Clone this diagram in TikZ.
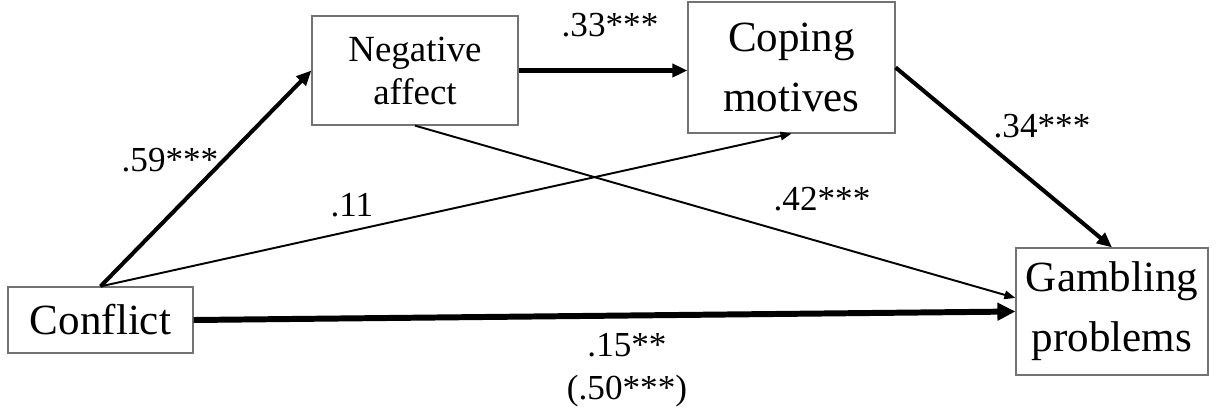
\documentclass[tikz,border=0pt]{standalone}
\usepackage{fontspec}
\setmainfont{Liberation Serif}
\usetikzlibrary{arrows.meta}

\begin{document}
\begin{tikzpicture}[x=0.02cm, y=-0.02cm,
        construct/.style={rectangle, draw=black!55, line width=0.7pt, inner sep=0pt, align=center,
            font=\fontsize{24.5}{34}\selectfont},
        coef/.style={inner sep=0pt, align=center, font=\fontsize{20}{24.4}\selectfont},
        thinpath/.style={line width=1.1pt, -{Triangle[length=0.22cm, width=0.17cm]}},
        paths/.style={line width=2.3pt, -{Triangle[length=0.3cm, width=0.26cm]}},
        heavypath/.style={line width=3.4pt, -{Triangle[length=0.36cm, width=0.34cm]}}
    ]
    \useasboundingbox (0,0) rectangle (1220,413);

        % Nodes
        \node[construct, minimum width=3.7cm, minimum height=1.32cm] (conflict) at (100.5,320) {Conflict};
        \node[construct, minimum width=4.12cm, minimum height=2.18cm,
              font=\fontsize{21}{24.5}\selectfont] (negaff) at (415,70.5) {Negative\\affect};
        \node[construct, minimum width=4.14cm, minimum height=2.62cm] (coping) at (791.5,67.5) {Coping\\motives};
        \node[construct, minimum width=3.84cm, minimum height=2.54cm] (gambling) at (1112,311.5) {Gambling\\problems};

        % Paths
        \draw[paths] (conflict.north) -- (negaff.west);
        \draw[thinpath] (conflict.north) -- (coping.south);
        \draw[paths] (negaff.east) -- (coping.west |- negaff.east);
        \draw[thinpath] (negaff.south) -- (gambling.172);
        \draw[paths] (coping.east) -- (gambling.north);
        \draw[heavypath] (conflict.east) -- (gambling.west);

        % Coefficients
        \node[coef] (c59) at (170,160) {.59***};
        \node[coef] (c11) at (352,205) {.11};
        \node[coef] (c33) at (610,25) {.33***};
        \node[coef] (c42) at (822,199) {.42***};
        \node[coef] (c34) at (1042,126) {.34***};
        \node[coef] (c15) at (627,370) {.15**\\(.50***)};

    \end{tikzpicture}
\end{document}
